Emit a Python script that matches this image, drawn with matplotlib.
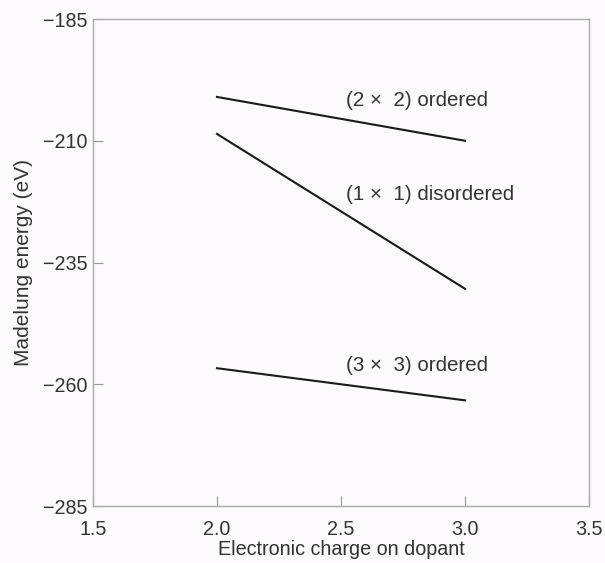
import matplotlib
matplotlib.use("Agg")
import matplotlib.pyplot as plt

plt.rcParams['font.family'] = ['Liberation Sans', 'DejaVu Sans']

charge = [2.0, 3.0]
ordered_2x2 = [-201.0, -210.0]
disordered_1x1 = [-208.6, -240.4]
ordered_3x3 = [-256.7, -263.3]
labels = ["(2 \u00d7  2) ordered", "(1 \u00d7  1) disordered", "(3 \u00d7  3) ordered"]
label_y = [-201.7, -221.1, -256.1]
label_x = 2.522
xticks = [1.5, 2.0, 2.5, 3.0, 3.5]
yticks = [-285, -260, -235, -210, -185]

bg = '#fcfafc'
txt = '#333333'
fig = plt.figure(figsize=(6.05, 5.63), dpi=100, facecolor=bg)
ax = fig.add_axes([0.1537, 0.1012, 0.82, 0.865])
ax.set_facecolor(bg)

for series in [ordered_2x2, disordered_1x1, ordered_3x3]:
    ax.plot(charge, series, color='#1a1a1a', lw=1.5)

for lab, ly in zip(labels, label_y):
    ax.text(label_x, ly, lab, fontsize=14.8, color=txt, va='center', ha='left')

ax.set_xlim(1.5, 3.5)
ax.set_ylim(-285, -185)
ax.set_xticks(xticks)
ax.set_xticklabels([f"{v:.1f}" for v in xticks])
ax.set_yticks(yticks)
ax.set_yticklabels([f"\u2212{abs(v)}" for v in yticks])
ax.tick_params(direction='in', length=7, width=0.8, color='#999999',
               labelsize=14.2, labelcolor=txt)
ax.tick_params(axis='x', pad=10)
ax.tick_params(axis='y', pad=4)
for s in ax.spines.values():
    s.set_color('#aaaaaa')
    s.set_linewidth(1.0)
ax.set_xlabel("Electronic charge on dopant", fontsize=14.2, color=txt, labelpad=1)
ax.set_ylabel("Madelung energy (eV)", fontsize=15, color=txt, labelpad=7)

fig.savefig("out.png", dpi=100, facecolor=bg)
